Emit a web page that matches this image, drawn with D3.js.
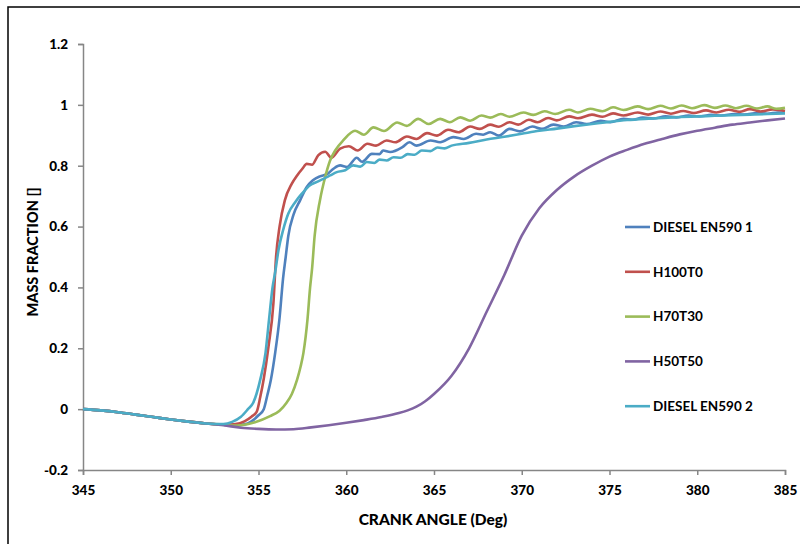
<!DOCTYPE html>
<html>
<head>
<meta charset="utf-8">
<script src="https://cdn.jsdelivr.net/npm/d3@7/dist/d3.min.js"></script>
<style>
  body { margin: 0; background: #fff; }
  svg text { font-family: Lato, "Open Sans", sans-serif; font-weight: bold; fill: #000; }
</style>
</head>
<body>
<div id="chart"></div>
<script>
// crank angle [deg], mass fraction []
var seriesNames = ["DIESEL EN590 1", "H100T0", "H70T30", "H50T50", "DIESEL EN590 2"];
var seriesColors = ["#4F81BD", "#C0504D", "#9BBB59", "#8064A2", "#4BACC6"];

var xTicks = [345, 350, 355, 360, 365, 370, 375, 380, 385];
var yTicks = [-0.2, 0, 0.2, 0.4, 0.6, 0.8, 1, 1.2];
var yTickLabels = ["-0.2", "0", "0.2", "0.4", "0.6", "0.8", "1", "1.2"];

var diesel1 = [[345,0],[346,-0.004],[347,-0.01],[348,-0.018],[349,-0.026],[350,-0.034],[351,-0.041],[352,-0.047],[353,-0.051],
  [353.6,-0.053],[354.2,-0.05],[354.6,-0.04],[355,-0.02],[355.3,0.0],[355.5,0.045],[355.7,0.095],[355.95,0.185],[356.2,0.3],
  [356.4,0.43],[356.55,0.5],[356.7,0.57],[357,0.64],[357.37,0.686],[357.75,0.73],[358.1,0.752],[358.5,0.765],[358.9,0.772],
  [359.27,0.79],[359.65,0.801],[360.05,0.796],[360.6,0.826],[360.9,0.813],[361.46,0.839],[361.9,0.838],[362.1,0.85],[362.5,0.845],
  [363.2,0.861],[363.6,0.877],[364,0.866],[364.8,0.883],[365.35,0.877],[366.1,0.894],[366.7,0.888],[367.4,0.905],[367.8,0.902],
  [368.2,0.91],[368.7,0.899],[369.3,0.921],[369.9,0.913],[370.6,0.929],[371.15,0.921],[371.8,0.935],[372.4,0.929],[373.1,0.943],
  [373.7,0.937],[374.5,0.948],[375.05,0.943],[375.8,0.954],[376.3,0.951],[376.9,0.958],[377.5,0.955],[378.2,0.962],[378.8,0.959],
  [379.5,0.965],[380.1,0.962],[380.8,0.967],[381.4,0.965],[382.1,0.97],[382.7,0.968],[383.4,0.973],[384,0.971],[384.6,0.975],[385,0.975]];

var h100t0 = [[345,0],[346,-0.004],[347,-0.01],[348,-0.018],[349,-0.026],[350,-0.034],[351,-0.041],[352,-0.047],[353,-0.051],
  [353.6,-0.05],[354.2,-0.04],[354.6,-0.025],[354.9,-0.008],[355.1,0.04],[355.3,0.1],[355.57,0.206],[355.85,0.348],[356,0.5],
  [356.2,0.6],[356.5,0.686],[356.9,0.741],[357.2,0.768],[357.5,0.79],[357.75,0.806],[358.05,0.803],[358.4,0.834],[358.8,0.846],
  [359.15,0.826],[359.65,0.856],[360.15,0.864],[360.65,0.85],[361.2,0.872],[361.7,0.866],[362.3,0.883],[362.8,0.877],[363.45,0.896],
  [364,0.888],[364.6,0.907],[365.16,0.899],[365.8,0.918],[366.4,0.91],[367.06,0.929],[367.6,0.921],[368.2,0.935],[368.7,0.928],
  [369.3,0.943],[369.8,0.935],[370.4,0.951],[370.9,0.943],[371.5,0.957],[372,0.949],[372.7,0.962],[373.2,0.956],[374,0.968],
  [374.6,0.961],[375.2,0.972],[375.8,0.965],[376.6,0.975],[377.2,0.968],[377.9,0.978],[378.5,0.971],[379.2,0.98],[379.8,0.973],
  [380.5,0.982],[381.1,0.975],[381.8,0.984],[382.4,0.977],[383,0.986],[383.6,0.978],[384.3,0.985],[385,0.98]];

var h70t30 = [[345,0],[346,-0.004],[347,-0.01],[348,-0.018],[349,-0.026],[350,-0.034],[351,-0.041],[352,-0.047],[353,-0.051],
  [353.5,-0.054],[354.1,-0.052],[354.8,-0.043],[355.66,-0.023],[356.2,-0.005],[356.6,0.021],[356.9,0.05],[357.2,0.097],[357.4,0.14],
  [357.56,0.185],[357.79,0.294],[357.94,0.4],[358.05,0.46],[358.2,0.57],[358.5,0.686],[358.8,0.763],[359.08,0.817],[359.37,0.85],
  [359.84,0.884],[360.5,0.915],[361,0.902],[361.55,0.926],[362.15,0.914],[362.9,0.942],[363.45,0.931],[364.1,0.954],[364.7,0.937],
  [365.35,0.954],[365.9,0.943],[366.5,0.959],[367.06,0.948],[367.7,0.965],[368.2,0.958],[368.8,0.97],[369.3,0.961],[370.1,0.975],
  [370.66,0.967],[371.3,0.979],[371.9,0.97],[372.7,0.984],[373.2,0.975],[373.9,0.987],[374.6,0.979],[375.2,0.992],[375.8,0.983],
  [376.6,0.995],[377.2,0.986],[377.9,0.997],[378.5,0.988],[379.1,0.998],[379.7,0.989],[380.4,0.999],[381,0.99],[381.6,0.998],
  [382.2,0.989],[382.8,0.997],[383.4,0.988],[384,0.995],[384.5,0.987],[385,0.99]];

var h50t50 = [[345,0],[346,-0.004],[347,-0.01],[348,-0.018],[349,-0.026],[350,-0.034],[351,-0.041],[352,-0.047],[353,-0.053],
  [354,-0.061],[355,-0.065],[356,-0.067],[357,-0.066],[358,-0.06],[359,-0.053],[360,-0.045],[361,-0.036],[362,-0.026],[363,-0.013],
  [363.5,-0.004],[364,0.008],[364.5,0.026],[365,0.05],[366,0.11],[367,0.2],[368,0.32],[369,0.44],[370,0.57],[371,0.66],[372,0.72],
  [373,0.765],[374,0.8],[375,0.83],[376,0.852],[377,0.872],[378,0.888],[379,0.903],[380,0.915],[381,0.925],[382,0.935],[383,0.942],
  [384,0.949],[385,0.955]];

var diesel2 = [[345,0],[346,-0.004],[347,-0.01],[348,-0.018],[349,-0.026],[350,-0.034],[351,-0.041],[352,-0.047],[353,-0.049],
  [353.5,-0.042],[354,-0.025],[354.4,0.0],[354.7,0.021],[355.1,0.097],[355.4,0.185],[355.6,0.294],[355.8,0.4],[355.95,0.45],
  [356.14,0.523],[356.4,0.588],[356.7,0.643],[357.1,0.681],[357.47,0.708],[357.94,0.736],[358.3,0.746],[358.7,0.757],[359.08,0.768],
  [359.46,0.779],[359.94,0.785],[360.4,0.801],[360.8,0.797],[361.17,0.812],[361.6,0.809],[361.9,0.82],[362.3,0.817],[362.7,0.828],
  [363.1,0.826],[363.5,0.838],[363.9,0.836],[364.3,0.85],[364.8,0.848],[365.2,0.86],[365.6,0.857],[366,0.866],[367,0.875],[368,0.886],
  [369,0.895],[370,0.905],[371,0.915],[372,0.922],[373,0.93],[374,0.937],[375,0.944],[376,0.95],[377,0.954],[378,0.957],[379,0.96],
  [380,0.962],[381,0.964],[382,0.966],[383,0.968],[384,0.97],[385,0.972]];

var seriesData = [diesel1, h100t0, h70t30, h50t50, diesel2];

var W = 800, H = 544;
var margin = {top: 44, left: 83, right: 15, bottom: 74};

var svg = d3.select("#chart").append("svg")
    .attr("width", W)
    .attr("height", H);

// outer frame (only top and left edges fall inside the picture)
svg.append("rect")
    .attr("x", 8).attr("y", 7)
    .attr("width", W).attr("height", H)
    .style("fill", "none")
    .style("stroke", "#000")
    .style("stroke-width", 1.5);

var x = d3.scaleLinear().domain([345, 385]).range([margin.left, W - margin.right]);
var y = d3.scaleLinear().domain([-0.2, 1.2]).range([H - margin.bottom, margin.top]);

var xAxis = d3.axisBottom(x).tickValues(xTicks).tickSize(5).tickPadding(10).tickFormat(d3.format("d"));
var yAxis = d3.axisLeft(y).tickValues(yTicks).tickSize(5).tickPadding(10)
    .tickFormat(function (d, i) { return yTickLabels[i]; });

var gx = svg.append("g")
    .attr("transform", "translate(0," + y(-0.2) + ")")
    .call(xAxis);
var gy = svg.append("g")
    .attr("transform", "translate(" + x(345) + ",0)")
    .call(yAxis);

[gx, gy].forEach(function (g) {
  g.select(".domain").style("stroke", "#868686").style("stroke-width", 1.5);
  g.selectAll(".tick line").style("stroke", "#868686").style("stroke-width", 1.5);
  g.selectAll(".tick text").style("font-size", "13.5px").style("fill", "#000")
      .style("font-family", "Lato, sans-serif").style("font-weight", "900");
});

svg.append("text")
    .attr("transform", "translate(" + 38 + "," + 252 + ") rotate(-90)")
    .style("text-anchor", "middle")
    .style("font-size", "14.5px")
    .style("font-weight", "900")
    .text("MASS FRACTION []");

svg.append("text")
    .attr("x", 433)
    .attr("y", 525)
    .style("text-anchor", "middle")
    .style("font-size", "15.5px")
    .style("font-weight", "900")
    .text("CRANK ANGLE  (Deg)");

var line = d3.line()
    .x(function (d) { return x(d[0]); })
    .y(function (d) { return y(d[1]); })
    .curve(d3.curveMonotoneX);

svg.selectAll(".series")
    .data(seriesData)
  .enter().append("path")
    .attr("class", "series")
    .attr("d", line)
    .style("fill", "none")
    .style("stroke", function (d, i) { return seriesColors[i]; })
    .style("stroke-width", 2.6)
    .style("stroke-linejoin", "round");

var legend = svg.selectAll(".legend")
    .data(seriesNames)
  .enter().append("g")
    .attr("class", "legend")
    .attr("transform", function (d, i) { return "translate(625," + (227 + i * 44.8) + ")"; });

legend.append("line")
    .attr("x1", 0).attr("x2", 25)
    .attr("y1", 0).attr("y2", 0)
    .style("stroke", function (d, i) { return seriesColors[i]; })
    .style("stroke-width", 2.6);

legend.append("text")
    .attr("x", 28)
    .attr("dy", "0.35em")
    .style("font-size", "13.5px")
    .text(function (d) { return d; });
</script>
</body>
</html>
